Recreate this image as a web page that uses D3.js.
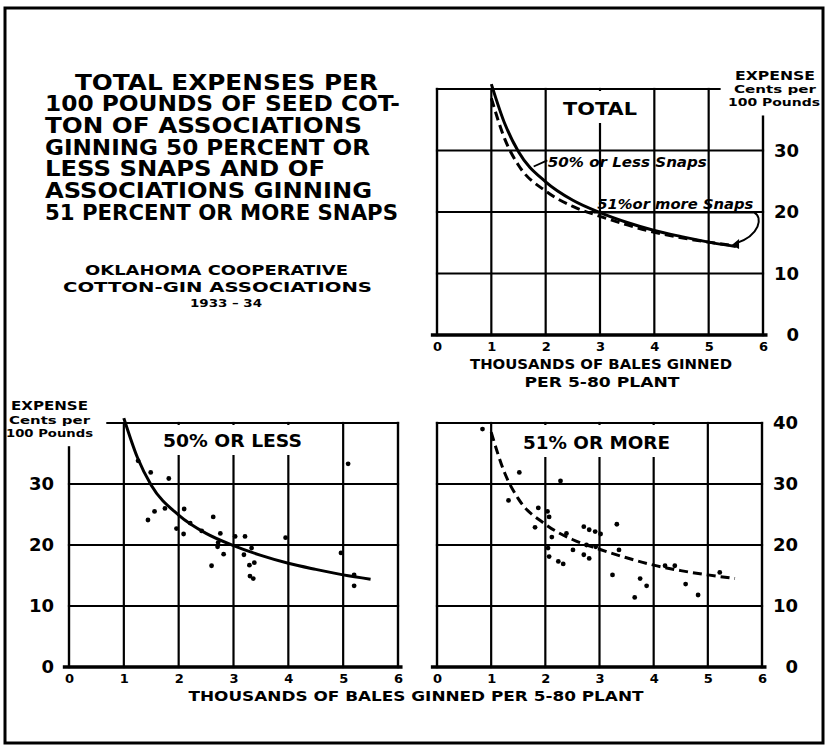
<!DOCTYPE html>
<html><head><meta charset="utf-8">
<script src="https://cdn.jsdelivr.net/npm/d3@7"></script>
<style>
body{margin:0;background:#fff}
svg{display:block}
text{font-family:"DejaVu Sans",sans-serif;font-weight:bold;fill:#000}
</style>
</head><body>
<svg id="c" width="827" height="747"></svg>
<script>
// ---------- data ----------
const xTicks = [0, 1, 2, 3, 4, 5, 6];
const yTicks = [0, 10, 20, 30, 40];
const curveX = [1, 1.25, 1.5, 2, 2.5, 3, 3.5, 4, 4.5, 5, 5.5];
const lessCurve = [40.8, 34.3, 29.8, 24.9, 21.9, 19.9, 18.3, 17.0, 16.0, 15.1, 14.4];
const moreCurve = [38.5, 31.8, 27.6, 23.4, 20.9, 19.3, 17.9, 16.7, 15.8, 15.1, 14.5];
const lessPtsX = [1.26,1.49,1.82,1.56,1.44,1.75,2.10,1.96,2.09,2.21,2.42,2.63,2.76,2.72,2.71,2.82,2.60,3.03,3.21,3.33,3.19,3.38,3.29,3.30,3.36,3.95,4.96,5.09,5.20,5.20];
const lessPtsY = [33.8,31.9,30.9,25.5,24.1,26.0,25.9,22.7,21.8,23.6,22.3,24.6,21.9,20.4,19.7,18.5,16.6,21.4,21.4,19.5,18.4,17.1,16.7,14.9,14.5,21.2,18.7,33.3,15.1,13.3];
const morePtsX = [0.84,1.52,2.28,1.32,1.87,2.04,2.07,1.81,2.12,2.07,2.05,2.24,2.33,2.51,2.71,2.81,2.92,3.02,2.71,2.81,2.76,2.93,3.32,3.36,3.24,3.75,3.87,3.65,4.21,4.39,4.59,4.82,5.22,2.39];
const morePtsY = [39.0,31.9,30.5,27.3,26.1,25.5,24.6,22.9,21.3,18.1,19.5,17.3,16.9,19.2,23.0,22.5,22.2,21.8,18.4,17.8,20.0,19.7,23.4,19.2,15.1,14.5,13.3,11.4,16.6,16.6,13.6,11.8,15.5,21.9];
const titleLines = ["TOTAL EXPENSES PER","100 POUNDS OF SEED COT-","TON OF ASSOCIATIONS","GINNING 50 PERCENT OR","LESS SNAPS AND OF","ASSOCIATIONS GINNING","51 PERCENT OR MORE SNAPS"];
const subtitleLines = ["OKLAHOMA COOPERATIVE","COTTON-GIN ASSOCIATIONS","1933 – 34"];
const panelTitles = ["TOTAL", "50% OR LESS", "51% OR MORE"];
const yAxisTitle = ["EXPENSE", "Cents per", "100 Pounds"];
const xAxisTitleTop = ["THOUSANDS OF BALES GINNED", "PER 5-80 PLANT"];
const xAxisTitleBottom = "THOUSANDS OF BALES GINNED PER 5-80 PLANT";
const seriesLabels = ["50% or Less Snaps", "51%or more Snaps"];

// ---------- layout ----------
const svg = d3.select("#c");
svg.append("rect").attr("width", 827).attr("height", 747).attr("fill", "#fff");
svg.append("rect").attr("x", 5).attr("y", 8).attr("width", 818).attr("height", 735)
  .attr("fill", "none").attr("stroke", "#000").attr("stroke-width", 3);

// Title block
const titleLayout = [[75,303],[45,355],[45,317],[45,325],[45,280],[45,327],[45,353]];
titleLines.forEach((t, i) => {
  svg.append("text").attr("x", titleLayout[i][0]).attr("y", 89.5 + i * 21.7)
    .attr("font-size", 21).attr("textLength", titleLayout[i][1])
    .attr("lengthAdjust", "spacingAndGlyphs").text(t);
});
const subLayout = [[85,263,275,14],[63,309,292,14],[190,72,307,11]];
subtitleLines.forEach((t, i) => {
  svg.append("text").attr("x", subLayout[i][0]).attr("y", subLayout[i][2])
    .attr("font-size", subLayout[i][3]).attr("textLength", subLayout[i][1])
    .attr("lengthAdjust", "spacingAndGlyphs").text(t);
});

const panels = [
  {xr:[437,763], yr:[335,89], side:"right", yLab:yTicks.slice(0,4), top:[0,5.2], leftTo:40, rightTo:35.5,
   title:panelTitles[0], tW:74, tBase:115, tX:600, lines:["less","more"], pts:null},
  {xr:[69,398], yr:[667,423], side:"left", yLab:yTicks.slice(0,4), top:[0.7,6], leftTo:36, rightTo:40,
   title:panelTitles[1], tW:139, tBase:447, tX:232.5, lines:["less"], pts:"less"},
  {xr:[437,762], yr:[667,423], side:"right", yLab:yTicks, top:[0,6], leftTo:40, rightTo:40,
   title:panelTitles[2], tW:147, tBase:449, tX:596.5, lines:["more"], pts:"more"}
];

const curves = {
  less: {vals: lessCurve, dash: null},
  more: {vals: moreCurve, dash: "9,5"}
};
const pts = {
  less: lessPtsX.map((x, i) => [x, lessPtsY[i]]),
  more: morePtsX.map((x, i) => [x, morePtsY[i]])
};

const scales = [];
panels.forEach((p, pi) => {
  const x = d3.scaleLinear().domain([0, 6]).range(p.xr);
  const y = d3.scaleLinear().domain([0, 40]).range(p.yr);
  scales.push({x, y});
  const g = svg.append("g");
  const seg = (x1, y1, x2, y2, w) => g.append("line")
    .attr("x1", x(x1)).attr("y1", y(y1)).attr("x2", x(x2)).attr("y2", y(y2))
    .attr("stroke", "#000").attr("stroke-width", w).attr("stroke-linecap", "square");
  [10, 20, 30].forEach(v => seg(0, v, 6, v, 2.2));
  seg(p.top[0], 40, p.top[1], 40, 2.2);
  [1, 2, 3, 4, 5].forEach(v => seg(v, 0, v, 40, 2.2));
  seg(0, 0, 0, p.leftTo, 2.4);
  seg(6, 0, 6, p.rightTo, 2.4);
  seg(-0.08, 0, 6.05, 0, 3.6);

  const tb = p.tBase;
  g.append("rect").attr("x", p.tX - p.tW / 2 - 6).attr("y", y(40) + 2)
    .attr("width", p.tW + 12).attr("height", tb + 8 - y(40) - 2).attr("fill", "#fff");
  g.append("text").attr("x", p.tX).attr("y", tb).attr("text-anchor", "middle")
    .attr("font-size", 17).attr("textLength", p.tW).attr("lengthAdjust", "spacingAndGlyphs")
    .text(p.title);

  const gx = g.append("g").attr("transform", `translate(0,${y(0)})`)
    .call(d3.axisBottom(x).tickValues(xTicks).tickSize(0).tickPadding(7).tickFormat(d3.format("d")));
  gx.select(".domain").remove();
  gx.selectAll("text").attr("font-size", 13).attr("font-family", "DejaVu Sans").attr("font-weight", "bold");

  let gy;
  if (p.side === "right") {
    gy = g.append("g").attr("transform", `translate(${x(6)},0)`)
      .call(d3.axisRight(y).tickValues(p.yLab).tickSize(0).tickPadding(36).tickFormat(d3.format("d")));
    gy.selectAll("text").attr("text-anchor", "end");
  } else {
    gy = g.append("g").attr("transform", `translate(${x(0)},0)`)
      .call(d3.axisLeft(y).tickValues(p.yLab).tickSize(0).tickPadding(15).tickFormat(d3.format("d")));
  }
  gy.select(".domain").remove();
  gy.selectAll("text").attr("font-size", 18).attr("font-family", "DejaVu Sans").attr("font-weight", "bold");

  p.lines.forEach(k => {
    const c = curves[k];
    const line = d3.line().x((d, i) => x(curveX[i])).y(d => y(d)).curve(d3.curveMonotoneX);
    g.append("path").attr("d", line(c.vals)).attr("fill", "none").attr("stroke", "#000")
      .attr("stroke-width", 3).attr("stroke-dasharray", c.dash);
  });
  if (p.pts) {
    g.selectAll("circle.pt").data(pts[p.pts]).enter().append("circle")
      .attr("cx", d => x(d[0])).attr("cy", d => y(d[1])).attr("r", 2.4).attr("fill", "#000");
  }
});

// Top-panel annotations
{
  const {x, y} = scales[0];
  const g = svg.append("g");
  g.append("line").attr("x1", x(1.78)).attr("y1", y(27.4)).attr("x2", x(2.03)).attr("y2", y(28.4))
    .attr("stroke", "#000").attr("stroke-width", 1.8);
  g.append("text").attr("x", x(2.04)).attr("y", y(27.3)).attr("font-size", 14)
    .attr("font-style", "italic").attr("font-weight", "normal")
    .attr("textLength", 159).attr("lengthAdjust", "spacingAndGlyphs").text(seriesLabels[0]);
  g.append("text").attr("x", x(2.95)).attr("y", y(20.5)).attr("font-size", 14)
    .attr("font-style", "italic").attr("font-weight", "normal")
    .attr("textLength", 156).attr("lengthAdjust", "spacingAndGlyphs").text(seriesLabels[1]);
  g.append("line").attr("x1", x(2.88)).attr("y1", y(19.9)).attr("x2", x(5.84)).attr("y2", y(19.9))
    .attr("stroke", "#000").attr("stroke-width", 1.6);
  const path = d3.path();
  path.moveTo(x(5.84), y(19.9));
  path.bezierCurveTo(x(6.0), y(19.2), x(5.95), y(16.2), x(5.5), y(14.9));
  g.append("path").attr("d", path.toString()).attr("fill", "none").attr("stroke", "#000").attr("stroke-width", 2);
  g.append("path").attr("d", `M${x(5.42)},${y(14.6)} L${x(5.56)},${y(14.0)} L${x(5.56)},${y(15.6)} Z`).attr("fill", "#000");

  const yt = [[775,80,13,80],[775,93,11,82],[774,106,11,92]];
  yAxisTitle.forEach((t, i) => {
    g.append("text").attr("x", yt[i][0]).attr("y", yt[i][1]).attr("text-anchor", "middle")
      .attr("font-size", yt[i][2]).attr("textLength", yt[i][3]).attr("lengthAdjust", "spacingAndGlyphs").text(t);
  });
  const xt = [[601,369,262],[602,387,155]];
  xAxisTitleTop.forEach((t, i) => {
    g.append("text").attr("x", xt[i][0]).attr("y", xt[i][1]).attr("text-anchor", "middle")
      .attr("font-size", 14).attr("textLength", xt[i][2]).attr("lengthAdjust", "spacingAndGlyphs").text(t);
  });
}
{
  const yt = [[11,410,13,77],[9,424,11,81],[6,437,11,87]];
  yAxisTitle.forEach((t, i) => {
    svg.append("text").attr("x", yt[i][0]).attr("y", yt[i][1])
      .attr("font-size", yt[i][2]).attr("textLength", yt[i][3]).attr("lengthAdjust", "spacingAndGlyphs").text(t);
  });
  svg.append("text").attr("x", 416).attr("y", 701).attr("text-anchor", "middle")
    .attr("font-size", 14).attr("textLength", 455).attr("lengthAdjust", "spacingAndGlyphs").text(xAxisTitleBottom);
}
</script>
</body></html>
